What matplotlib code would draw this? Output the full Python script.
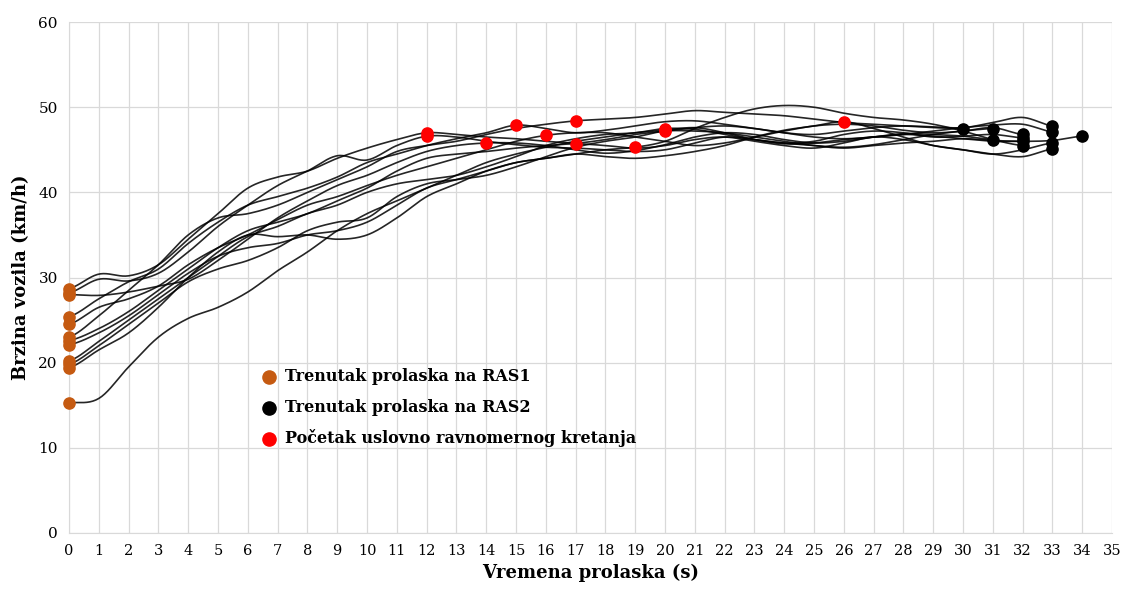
import numpy as np
import matplotlib
matplotlib.use("Agg")
import matplotlib.pyplot as plt

plt.rcParams['font.family'] = ['DejaVu Serif']

# brzina (km/h) u svakoj sekundi, po vozilu
v_A = [28.7, 30.4, 30.2, 31.5, 34.5, 37.5, 40.5, 41.8, 42.5, 44.0, 45.2, 46.2, 47.0, 46.8, 46.5, 46.3, 46.0,
       45.8, 46.2, 46.8, 47.2, 47.6, 47.8, 47.5, 47.0, 46.8, 47.2, 47.6, 47.8, 47.7, 47.6, 48.2, 48.8, 47.8]
v_B = [28.2, 29.8, 29.6, 30.5, 33.0, 36.0, 38.5, 40.8, 42.5, 44.3, 43.8, 45.5, 46.6, 46.5, 46.0, 45.6, 45.3,
       45.2, 45.0, 44.8, 45.0, 45.8, 46.5, 46.2, 45.8, 46.0, 46.8, 47.2, 47.0, 46.5, 46.6, 46.8, 46.4]
v_C = [28.0, 27.9, 28.3, 29.0, 29.8, 32.0, 34.5, 37.0, 39.0, 40.8, 42.0, 43.5, 44.8, 45.5, 45.8, 45.8, 45.5,
       45.0, 44.6, 44.9, 45.6, 46.5, 47.0, 46.8, 46.2, 45.8, 46.0, 46.5, 46.9, 46.8, 46.6, 46.2]
v_D = [25.4, 27.5, 29.5, 31.0, 34.0, 36.5, 38.5, 39.5, 40.5, 41.8, 43.5, 44.5, 45.5, 46.3, 47.0, 47.9, 47.5,
       47.0, 47.3, 47.8, 48.3, 48.4, 48.0, 47.5, 47.0, 46.5, 46.3, 46.5, 46.8, 47.2, 47.6, 47.9, 48.0, 47.1]
v_E = [24.5, 26.5, 27.5, 29.0, 31.5, 33.5, 35.0, 36.8, 38.5, 39.5, 40.8, 42.0, 43.0, 44.0, 45.0, 46.0, 46.7,
       47.0, 47.0, 46.5, 46.0, 45.5, 45.8, 46.5, 47.2, 47.8, 48.0, 47.8, 47.3, 47.0, 47.2, 47.6, 46.8]
v_F = [23.0, 25.5, 28.5, 31.5, 35.0, 37.0, 37.5, 38.5, 40.0, 41.5, 43.0, 44.8, 45.5, 46.0, 46.8, 47.5, 48.0,
       48.4, 48.6, 48.8, 49.2, 49.6, 49.4, 49.2, 49.0, 48.6, 48.2, 48.0, 47.8, 47.6, 47.5]
v_G = [22.6, 24.0, 26.0, 28.5, 31.0, 33.5, 35.5, 36.5, 37.5, 39.0, 40.5, 42.5, 44.0, 44.5, 44.8, 45.2, 45.5,
       45.7, 45.5, 45.2, 45.5, 46.2, 46.5, 46.0, 45.5, 45.2, 45.8, 46.5, 46.2, 45.5, 45.0, 44.5, 45.0, 45.8]
v_H = [22.1, 23.5, 25.5, 28.0, 30.5, 32.5, 33.5, 34.0, 35.0, 35.5, 36.5, 38.5, 40.5, 41.5, 42.5, 43.5, 44.0,
       44.5, 45.0, 45.3, 46.0, 47.5, 48.8, 49.8, 50.2, 50.0, 49.3, 48.8, 48.5, 48.0, 47.2, 46.2, 45.5]
v_I = [20.2, 22.5, 25.0, 27.5, 30.0, 32.5, 34.8, 36.0, 37.5, 38.5, 40.0, 41.0, 41.5, 42.0, 43.0, 44.2, 45.5,
       46.3, 46.8, 47.0, 47.5, 47.4, 46.8, 46.2, 45.8, 45.5, 45.3, 45.6, 46.2, 46.8, 47.2, 47.5]
v_J = [19.8, 22.0, 24.5, 27.0, 29.5, 31.0, 32.0, 33.5, 35.5, 36.5, 37.0, 39.5, 41.0, 41.5, 42.0, 43.0, 44.2,
       45.3, 46.0, 46.5, 47.2, 47.2, 47.0, 46.5, 46.0, 45.5, 45.2, 45.5, 45.8, 46.0, 46.3, 46.1, 46.0, 46.1, 46.6]
v_K = [19.4, 21.5, 23.5, 26.5, 30.0, 33.0, 35.0, 34.8, 35.0, 34.5, 35.0, 37.0, 39.5, 41.0, 42.5, 43.5, 44.0,
       44.5, 44.2, 44.0, 44.3, 44.8, 45.5, 46.5, 47.3, 47.8, 48.3, 47.5, 46.5, 45.5, 45.0, 44.5, 44.2, 45.1]
v_L = [15.3, 15.8, 19.5, 23.0, 25.2, 26.5, 28.3, 30.8, 33.0, 35.5, 37.5, 39.0, 40.5, 42.0, 43.5, 44.5, 45.3,
       46.0, 46.5, 47.0, 47.3, 47.6, 47.0, 46.2, 45.7, 45.8, 46.2, 46.5, 46.8, 46.6, 46.3, 46.0, 46.0]

vozila = [v_A, v_B, v_C, v_D, v_E, v_F, v_G, v_H, v_I, v_J, v_K, v_L]
# sekunda pocetka uslovno ravnomernog kretanja
t_ravn = [12, 12, 14, 15, 16, 17, 17, 19, 20, 20, 26, 20]

c_ras1 = '#C55A11'


def glatko(y, n=20):
    # Catmull-Rom, slicno "smoothed line" u Excelu
    y = np.asarray(y, float)
    p = np.concatenate([[y[0]], y, [y[-1]]])
    xs, ys = [], []
    for i in range(len(y) - 1):
        p0, p1, p2, p3 = p[i], p[i + 1], p[i + 2], p[i + 3]
        s = np.linspace(0, 1, n, endpoint=False)
        yy = 0.5 * ((2 * p1) + (-p0 + p2) * s + (2 * p0 - 5 * p1 + 4 * p2 - p3) * s ** 2
                    + (-p0 + 3 * p1 - 3 * p2 + p3) * s ** 3)
        xs.append(i + s)
        ys.append(yy)
    xs.append([len(y) - 1])
    ys.append([y[-1]])
    return np.concatenate(xs), np.concatenate(ys)


fig = plt.figure(figsize=(11.24, 5.92), dpi=100)
ax = fig.add_axes([0.0614, 0.0997, 0.928, 0.863])

for v in vozila:
    x, y = glatko(v)
    ax.plot(x, y, color='black', lw=1.2, alpha=0.85, zorder=2)

for v, tr in zip(vozila, t_ravn):
    ax.scatter(0, v[0], s=65, color=c_ras1, zorder=3, clip_on=False)
    ax.scatter(len(v) - 1, v[-1], s=65, color='black', zorder=3, clip_on=False)
    ax.scatter(tr, v[tr], s=65, color='red', zorder=4)

ax.set_xlim(0, 35)
ax.set_ylim(0, 60)
ax.set_xticks(range(0, 36))
ax.set_yticks(range(0, 61, 10))
ax.grid(True, color='#D9D9D9', lw=0.9)
ax.set_axisbelow(True)
for s in ['top', 'right']:
    ax.spines[s].set_visible(False)
for s in ['left', 'bottom']:
    ax.spines[s].set_color('#D9D9D9')
ax.tick_params(length=0, labelsize=11, pad=8)
ax.tick_params(axis='x', labelsize=10.5)
ax.set_xlabel('Vremena prolaska (s)', fontsize=13, fontweight='bold', labelpad=4)
ax.set_ylabel('Brzina vozila (km/h)', fontsize=13, fontweight='bold', labelpad=6)

h1 = ax.scatter([], [], s=90, color=c_ras1)
h2 = ax.scatter([], [], s=90, color='black')
h3 = ax.scatter([], [], s=90, color='red')
ax.legend([h1, h2, h3], ['Trenutak prolaska na RAS1', 'Trenutak prolaska na RAS2',
                         'Početak uslovno ravnomernog kretanja'],
          loc='upper left', bbox_to_anchor=(0.17, 0.335), frameon=False,
          prop={'weight': 'bold', 'size': 11.5}, handletextpad=0.05, labelspacing=0.85,
          borderaxespad=0)

fig.savefig('out.png', dpi=100)
